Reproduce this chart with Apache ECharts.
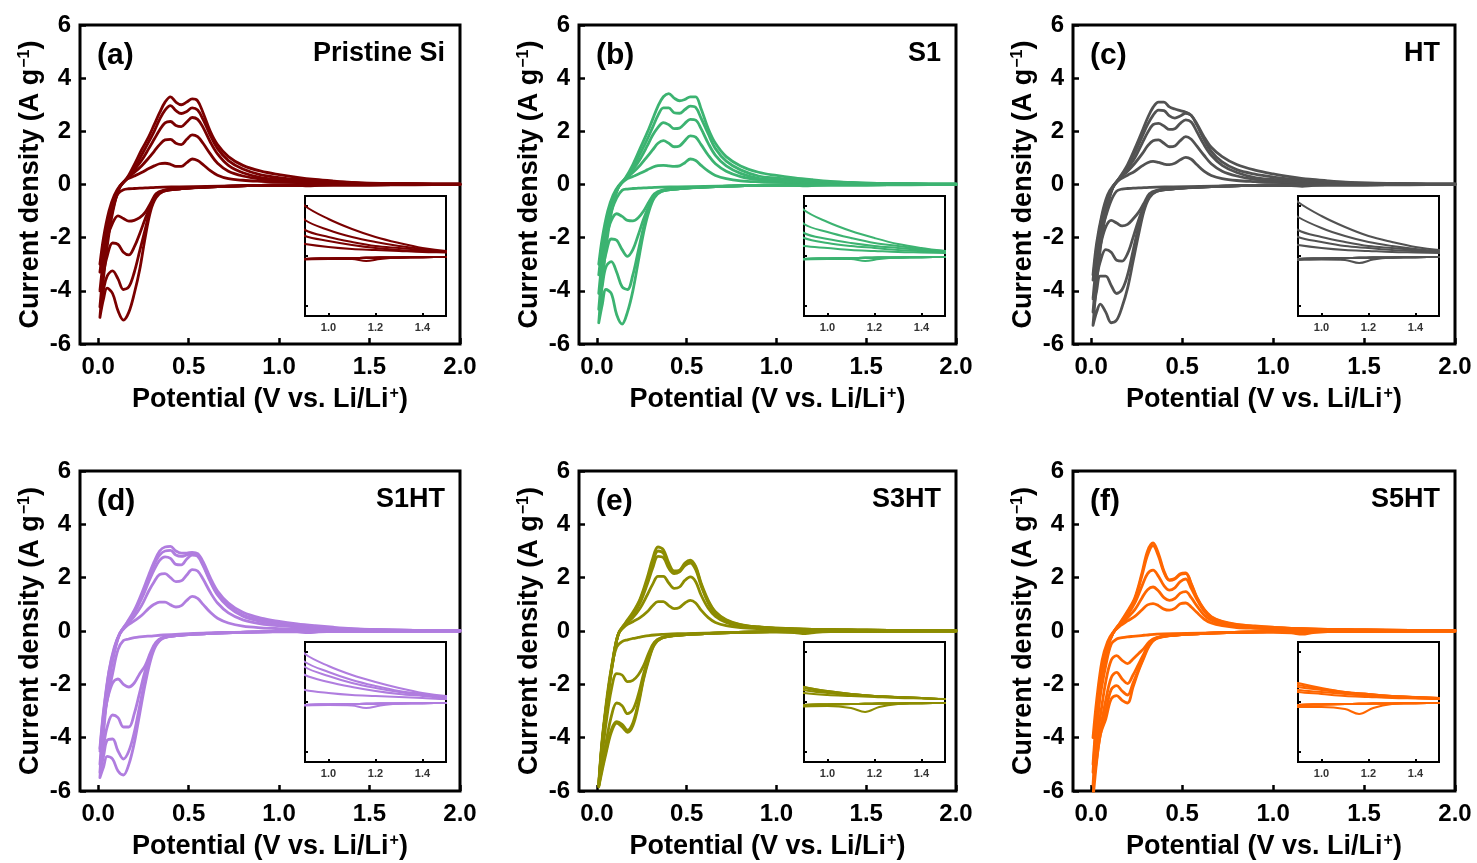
<!DOCTYPE html>
<html>
<head>
<meta charset="utf-8">
<title>Cyclic voltammograms of Si anodes</title>
<script src="https://cdn.jsdelivr.net/npm/echarts@6/dist/echarts.min.js"></script>
<style>
  html, body { margin: 0; padding: 0; background: #fff; }
  #chart { width: 1477px; height: 863px; }
</style>
</head>
<body>
<div id="chart"></div>
<script>
// ---------------------------------------------------------------------------
// Potential grids (V vs. Li/Li+) shared by every sweep
// ---------------------------------------------------------------------------
const POTENTIAL_CATHODIC = [2.0, 1.75, 1.5, 1.4, 1.3, 1.22, 1.16, 1.1, 1.0, 0.9, 0.75, 0.6, 0.45,
  0.36, 0.32, 0.29, 0.26, 0.23, 0.2, 0.17, 0.14, 0.11, 0.08, 0.05, 0.03, 0.01];
const POTENTIAL_ANODIC = [0.01, 0.03, 0.06, 0.09, 0.12, 0.16, 0.2, 0.24, 0.28, 0.31, 0.34, 0.37, 0.40,
  0.43, 0.46, 0.49, 0.52, 0.55, 0.58, 0.62, 0.66, 0.72, 0.8, 0.9, 1.0, 1.1, 1.2, 1.3, 1.4, 1.5, 1.75, 2.0];

// Axis ticks
const X_TICKS = [0, 0.5, 1.0, 1.5, 2.0];
const Y_TICKS = [-6, -4, -2, 0, 2, 4, 6];
const INSET_X_TICKS = [1.0, 1.2, 1.4];
const INSET_Y_TICKS = [-0.5, 0, 0.5];

// Panel labels and sample names
const PANEL_LABELS = ['(a)', '(b)', '(c)', '(d)', '(e)', '(f)'];
const SAMPLE_NAMES = ['Pristine Si', 'S1', 'HT', 'S1HT', 'S3HT', 'S5HT'];

// ---------------------------------------------------------------------------
// Current density (A g-1), cycles 1..5; cathodic sweeps follow POTENTIAL_CATHODIC,
// anodic sweeps follow POTENTIAL_ANODIC
// ---------------------------------------------------------------------------
const PRISTINE_SI_CATHODIC = [
  [0.0, -0.01, -0.01, -0.01, -0.015, -0.03, -0.05, -0.03, -0.03, -0.035, -0.05, -0.07, -0.09, -0.1, -0.11, -0.12, -0.13, -0.14, -0.15, -0.16, -0.2, -0.35, -0.85, -1.6, -2.2, -3.0],
  [0.0, -0.005, -0.01, -0.012, -0.014, -0.016, -0.018, -0.02, -0.025, -0.03, -0.06, -0.1, -0.16, -0.22, -0.35, -0.7, -1.05, -1.25, -1.35, -1.38, -1.28, -1.18, -1.45, -2.0, -2.6, -3.3],
  [0.0, -0.005, -0.01, -0.012, -0.014, -0.016, -0.018, -0.02, -0.025, -0.03, -0.06, -0.1, -0.16, -0.24, -0.4, -0.8, -1.3, -1.85, -2.35, -2.65, -2.55, -2.25, -2.2, -2.7, -3.3, -4.0],
  [0.0, -0.005, -0.01, -0.012, -0.014, -0.016, -0.018, -0.02, -0.025, -0.03, -0.06, -0.1, -0.16, -0.25, -0.45, -0.9, -1.7, -2.5, -3.3, -3.85, -3.95, -3.55, -3.25, -3.45, -3.95, -4.6],
  [0.0, -0.005, -0.01, -0.012, -0.014, -0.016, -0.018, -0.02, -0.025, -0.03, -0.06, -0.1, -0.16, -0.26, -0.5, -1.0, -2.0, -3.2, -4.1, -4.8, -5.1, -4.75, -4.1, -3.9, -4.3, -5.0]
];
const PRISTINE_SI_ANODIC = [
  [-3.0, -2.0, -1.0, -0.4, -0.05, 0.2, 0.32, 0.45, 0.6, 0.7, 0.78, 0.8, 0.76, 0.68, 0.68, 0.82, 0.96, 0.9, 0.75, 0.52, 0.35, 0.22, 0.16, 0.12, 0.09, 0.07, 0.06, 0.05, 0.04, 0.035, 0.02, 0.01],
  [-3.3, -2.3, -1.2, -0.5, -0.08, 0.22, 0.45, 0.7, 1.0, 1.25, 1.5, 1.68, 1.7, 1.55, 1.5, 1.7, 1.87, 1.8, 1.55, 1.15, 0.8, 0.5, 0.32, 0.2, 0.15, 0.11, 0.08, 0.06, 0.05, 0.04, 0.02, 0.01],
  [-4.0, -2.8, -1.4, -0.6, -0.1, 0.22, 0.55, 0.9, 1.35, 1.7, 2.05, 2.32, 2.37, 2.22, 2.18, 2.35, 2.52, 2.45, 2.15, 1.6, 1.15, 0.72, 0.44, 0.26, 0.19, 0.14, 0.1, 0.08, 0.06, 0.04, 0.02, 0.01],
  [-4.6, -3.2, -1.6, -0.7, -0.1, 0.23, 0.6, 1.1, 1.6, 2.0, 2.45, 2.8, 2.97, 2.78, 2.67, 2.75, 2.88, 2.8, 2.45, 1.85, 1.35, 0.9, 0.58, 0.36, 0.26, 0.19, 0.14, 0.1, 0.07, 0.045, 0.02, 0.01],
  [-5.0, -3.5, -1.85, -0.75, -0.1, 0.25, 0.75, 1.3, 1.8, 2.25, 2.7, 3.1, 3.3, 3.1, 3.0, 3.1, 3.22, 3.15, 2.7, 2.0, 1.5, 1.05, 0.72, 0.5, 0.37, 0.27, 0.19, 0.13, 0.08, 0.05, 0.02, 0.01]
];

const S1_CATHODIC = [
  [0.0, -0.01, -0.01, -0.01, -0.015, -0.03, -0.05, -0.03, -0.03, -0.035, -0.05, -0.07, -0.09, -0.1, -0.11, -0.12, -0.13, -0.14, -0.15, -0.17, -0.22, -0.5, -1.0, -1.7, -2.3, -3.0],
  [0.0, -0.005, -0.01, -0.012, -0.014, -0.016, -0.018, -0.02, -0.025, -0.03, -0.06, -0.1, -0.16, -0.22, -0.35, -0.65, -1.0, -1.25, -1.37, -1.35, -1.2, -1.1, -1.35, -2.0, -2.6, -3.4],
  [0.0, -0.005, -0.01, -0.012, -0.014, -0.016, -0.018, -0.02, -0.025, -0.03, -0.06, -0.1, -0.16, -0.24, -0.4, -0.8, -1.3, -1.9, -2.45, -2.7, -2.45, -2.1, -2.05, -2.6, -3.3, -4.1],
  [0.0, -0.005, -0.01, -0.012, -0.014, -0.016, -0.018, -0.02, -0.025, -0.03, -0.06, -0.1, -0.16, -0.25, -0.45, -0.9, -1.6, -2.5, -3.4, -3.95, -3.85, -3.3, -2.9, -3.1, -3.8, -4.7],
  [0.0, -0.005, -0.01, -0.012, -0.014, -0.016, -0.018, -0.02, -0.025, -0.03, -0.06, -0.1, -0.16, -0.26, -0.5, -1.0, -1.8, -2.9, -4.0, -4.8, -5.25, -4.9, -4.1, -3.95, -4.5, -5.2]
];
const S1_ANODIC = [
  [-3.0, -2.0, -1.0, -0.4, -0.05, 0.18, 0.3, 0.42, 0.55, 0.65, 0.71, 0.72, 0.7, 0.68, 0.7, 0.82, 0.96, 0.9, 0.72, 0.5, 0.34, 0.22, 0.14, 0.1, 0.08, 0.06, 0.05, 0.04, 0.035, 0.03, 0.02, 0.01],
  [-3.4, -2.3, -1.2, -0.5, -0.08, 0.22, 0.45, 0.72, 1.05, 1.3, 1.55, 1.65, 1.55, 1.42, 1.45, 1.65, 1.83, 1.78, 1.5, 1.1, 0.78, 0.5, 0.3, 0.18, 0.13, 0.1, 0.08, 0.06, 0.05, 0.04, 0.02, 0.01],
  [-4.1, -2.8, -1.4, -0.6, -0.1, 0.23, 0.55, 0.95, 1.45, 1.85, 2.15, 2.33, 2.25, 2.1, 2.12, 2.3, 2.45, 2.42, 2.1, 1.55, 1.1, 0.7, 0.42, 0.23, 0.17, 0.13, 0.1, 0.08, 0.06, 0.04, 0.02, 0.01],
  [-4.7, -3.2, -1.6, -0.7, -0.1, 0.24, 0.62, 1.15, 1.7, 2.15, 2.6, 2.88, 2.88, 2.7, 2.68, 2.82, 2.95, 2.9, 2.5, 1.9, 1.35, 0.88, 0.55, 0.32, 0.24, 0.18, 0.13, 0.1, 0.07, 0.05, 0.02, 0.01],
  [-5.2, -3.6, -1.9, -0.75, -0.1, 0.26, 0.75, 1.35, 1.95, 2.45, 2.95, 3.3, 3.42, 3.25, 3.15, 3.2, 3.3, 3.3, 2.85, 2.1, 1.55, 1.05, 0.7, 0.46, 0.34, 0.25, 0.18, 0.12, 0.08, 0.05, 0.02, 0.01]
];

const HT_CATHODIC = [
  [0.0, -0.01, -0.01, -0.01, -0.015, -0.035, -0.07, -0.04, -0.035, -0.04, -0.05, -0.07, -0.09, -0.1, -0.11, -0.12, -0.13, -0.14, -0.15, -0.17, -0.25, -0.6, -1.2, -1.9, -2.6, -3.4],
  [0.0, -0.005, -0.01, -0.012, -0.014, -0.016, -0.018, -0.02, -0.025, -0.03, -0.06, -0.1, -0.16, -0.22, -0.35, -0.7, -1.05, -1.3, -1.5, -1.56, -1.45, -1.35, -1.6, -2.3, -2.9, -3.6],
  [0.0, -0.005, -0.01, -0.012, -0.014, -0.016, -0.018, -0.02, -0.025, -0.03, -0.06, -0.1, -0.16, -0.24, -0.4, -0.8, -1.35, -2.0, -2.6, -2.88, -2.85, -2.55, -2.45, -2.9, -3.5, -4.3],
  [0.0, -0.005, -0.01, -0.012, -0.014, -0.016, -0.018, -0.02, -0.025, -0.03, -0.06, -0.1, -0.16, -0.25, -0.45, -0.9, -1.6, -2.5, -3.4, -3.95, -4.1, -3.8, -3.45, -3.45, -4.0, -4.8],
  [0.0, -0.005, -0.01, -0.012, -0.014, -0.016, -0.018, -0.02, -0.025, -0.03, -0.06, -0.1, -0.16, -0.26, -0.5, -1.0, -1.9, -2.9, -3.9, -4.6, -5.1, -5.2, -4.8, -4.5, -4.8, -5.3]
];
const HT_ANODIC = [
  [-3.4, -2.2, -1.1, -0.4, -0.05, 0.2, 0.35, 0.5, 0.7, 0.82, 0.87, 0.83, 0.77, 0.75, 0.8, 0.93, 1.02, 0.95, 0.75, 0.5, 0.34, 0.22, 0.15, 0.11, 0.08, 0.06, 0.05, 0.04, 0.035, 0.03, 0.02, 0.01],
  [-3.6, -2.4, -1.2, -0.5, -0.08, 0.25, 0.5, 0.8, 1.15, 1.45, 1.65, 1.68, 1.55, 1.42, 1.45, 1.65, 1.8, 1.7, 1.45, 1.1, 0.78, 0.5, 0.32, 0.19, 0.14, 0.1, 0.08, 0.06, 0.05, 0.04, 0.02, 0.01],
  [-4.3, -2.9, -1.45, -0.6, -0.1, 0.27, 0.6, 1.0, 1.55, 1.95, 2.25, 2.3, 2.2, 2.07, 2.1, 2.3, 2.43, 2.35, 2.0, 1.5, 1.1, 0.72, 0.45, 0.26, 0.19, 0.14, 0.1, 0.08, 0.06, 0.04, 0.02, 0.01],
  [-4.8, -3.3, -1.65, -0.7, -0.1, 0.28, 0.68, 1.2, 1.8, 2.25, 2.6, 2.8, 2.78, 2.58, 2.5, 2.58, 2.68, 2.6, 2.25, 1.7, 1.25, 0.85, 0.56, 0.39, 0.28, 0.2, 0.14, 0.1, 0.07, 0.05, 0.02, 0.01],
  [-5.3, -3.7, -1.9, -0.8, -0.1, 0.3, 0.75, 1.35, 2.0, 2.5, 2.9, 3.1, 3.1, 2.92, 2.84, 2.78, 2.72, 2.6, 2.3, 1.8, 1.4, 1.05, 0.75, 0.54, 0.4, 0.29, 0.2, 0.14, 0.09, 0.06, 0.02, 0.01]
];

const S1HT_CATHODIC = [
  [0.0, -0.01, -0.01, -0.01, -0.015, -0.035, -0.06, -0.035, -0.03, -0.035, -0.05, -0.07, -0.12, -0.15, -0.17, -0.19, -0.2, -0.22, -0.25, -0.3, -0.36, -0.7, -1.6, -2.6, -3.4, -4.4],
  [0.0, -0.005, -0.01, -0.012, -0.014, -0.016, -0.018, -0.02, -0.025, -0.03, -0.06, -0.1, -0.16, -0.24, -0.42, -0.8, -1.3, -1.6, -1.95, -2.1, -2.0, -1.8, -1.95, -2.6, -3.3, -4.5],
  [0.0, -0.005, -0.01, -0.012, -0.014, -0.016, -0.018, -0.02, -0.025, -0.03, -0.06, -0.1, -0.16, -0.25, -0.45, -0.9, -1.5, -2.3, -3.1, -3.6, -3.6, -3.25, -3.15, -3.6, -4.3, -5.0],
  [0.0, -0.005, -0.01, -0.012, -0.014, -0.016, -0.018, -0.02, -0.025, -0.03, -0.06, -0.1, -0.16, -0.26, -0.5, -1.0, -1.8, -2.8, -3.8, -4.5, -4.8, -4.5, -4.05, -4.1, -4.7, -5.3],
  [0.0, -0.005, -0.01, -0.012, -0.014, -0.016, -0.018, -0.02, -0.025, -0.03, -0.06, -0.1, -0.16, -0.27, -0.55, -1.1, -2.0, -3.1, -4.2, -5.0, -5.4, -5.25, -4.8, -4.7, -5.1, -5.5]
];
const S1HT_ANODIC = [
  [-4.4, -3.0, -1.5, -0.6, -0.1, 0.2, 0.38, 0.58, 0.85, 1.0, 1.08, 1.08, 0.98, 0.9, 0.95, 1.15, 1.3, 1.22, 1.0, 0.7, 0.48, 0.3, 0.18, 0.12, 0.09, 0.07, 0.06, 0.05, 0.04, 0.03, 0.02, 0.01],
  [-4.5, -3.1, -1.55, -0.65, -0.1, 0.25, 0.55, 0.95, 1.5, 1.85, 2.12, 2.15, 2.0, 1.85, 1.88, 2.1, 2.3, 2.25, 1.95, 1.45, 1.05, 0.68, 0.42, 0.27, 0.2, 0.15, 0.11, 0.08, 0.06, 0.04, 0.02, 0.01],
  [-5.0, -3.4, -1.7, -0.7, -0.1, 0.28, 0.68, 1.2, 1.85, 2.3, 2.65, 2.78, 2.72, 2.5, 2.48, 2.7, 2.85, 2.8, 2.45, 1.85, 1.35, 0.9, 0.55, 0.35, 0.26, 0.19, 0.14, 0.1, 0.07, 0.05, 0.02, 0.01],
  [-5.3, -3.6, -1.8, -0.75, -0.1, 0.3, 0.72, 1.3, 2.0, 2.5, 2.85, 3.0, 3.02, 2.85, 2.8, 2.85, 2.9, 2.85, 2.5, 1.9, 1.4, 0.95, 0.6, 0.4, 0.3, 0.22, 0.16, 0.11, 0.08, 0.05, 0.02, 0.01],
  [-5.5, -3.8, -1.9, -0.8, -0.1, 0.32, 0.78, 1.4, 2.1, 2.6, 3.0, 3.15, 3.17, 3.0, 2.92, 2.92, 2.95, 2.9, 2.6, 2.0, 1.5, 1.05, 0.7, 0.48, 0.36, 0.27, 0.2, 0.14, 0.09, 0.06, 0.02, 0.01]
];

const S3HT_CATHODIC = [
  [0.0, -0.01, -0.01, -0.01, -0.02, -0.05, -0.1, -0.06, -0.04, -0.045, -0.06, -0.08, -0.1, -0.13, -0.15, -0.17, -0.2, -0.24, -0.28, -0.33, -0.4, -0.6, -1.4, -2.8, -4.2, -5.7],
  [0.0, -0.005, -0.01, -0.012, -0.014, -0.016, -0.018, -0.02, -0.025, -0.03, -0.06, -0.1, -0.16, -0.25, -0.42, -0.8, -1.3, -1.65, -1.85, -1.9, -1.65, -1.6, -2.2, -3.5, -4.6, -5.8],
  [0.0, -0.005, -0.01, -0.012, -0.014, -0.016, -0.018, -0.02, -0.025, -0.03, -0.06, -0.1, -0.16, -0.26, -0.45, -0.95, -1.6, -2.4, -2.95, -3.1, -2.8, -2.7, -3.2, -4.2, -5.0, -5.8],
  [0.0, -0.005, -0.01, -0.012, -0.014, -0.016, -0.018, -0.02, -0.025, -0.03, -0.06, -0.1, -0.16, -0.27, -0.5, -1.0, -1.75, -2.7, -3.45, -3.72, -3.5, -3.4, -3.7, -4.5, -5.1, -5.8],
  [0.0, -0.005, -0.01, -0.012, -0.014, -0.016, -0.018, -0.02, -0.025, -0.03, -0.06, -0.1, -0.16, -0.27, -0.52, -1.05, -1.8, -2.8, -3.55, -3.8, -3.6, -3.45, -3.8, -4.6, -5.2, -5.85]
];
const S3HT_ANODIC = [
  [-5.7, -4.0, -2.3, -1.0, -0.1, 0.2, 0.35, 0.5, 0.72, 0.95, 1.1, 1.1, 0.95, 0.84, 0.88, 1.05, 1.15, 1.05, 0.78, 0.5, 0.32, 0.2, 0.13, 0.09, 0.07, 0.06, 0.05, 0.04, 0.035, 0.03, 0.02, 0.01],
  [-5.8, -4.1, -2.4, -1.05, -0.1, 0.25, 0.5, 0.85, 1.35, 1.75, 2.05, 2.05, 1.8, 1.6, 1.65, 1.9, 2.03, 1.85, 1.35, 0.85, 0.55, 0.32, 0.19, 0.12, 0.09, 0.07, 0.06, 0.05, 0.04, 0.03, 0.02, 0.01],
  [-5.8, -4.1, -2.4, -1.05, -0.1, 0.28, 0.6, 1.05, 1.75, 2.35, 2.8, 2.75, 2.35, 2.15, 2.22, 2.45, 2.55, 2.3, 1.7, 1.05, 0.65, 0.38, 0.22, 0.14, 0.1, 0.08, 0.06, 0.05, 0.04, 0.03, 0.02, 0.01],
  [-5.8, -4.15, -2.45, -1.1, -0.1, 0.3, 0.65, 1.15, 1.9, 2.55, 3.0, 2.92, 2.45, 2.2, 2.25, 2.5, 2.62, 2.38, 1.75, 1.1, 0.7, 0.4, 0.23, 0.15, 0.11, 0.08, 0.06, 0.05, 0.04, 0.03, 0.02, 0.01],
  [-5.85, -4.2, -2.5, -1.1, -0.1, 0.32, 0.7, 1.2, 2.0, 2.7, 3.15, 3.05, 2.55, 2.25, 2.28, 2.55, 2.66, 2.42, 1.8, 1.15, 0.72, 0.42, 0.24, 0.15, 0.11, 0.08, 0.06, 0.05, 0.04, 0.03, 0.02, 0.01]
];

const S5HT_CATHODIC = [
  [0.0, -0.01, -0.01, -0.01, -0.02, -0.06, -0.12, -0.07, -0.05, -0.05, -0.06, -0.08, -0.1, -0.12, -0.14, -0.16, -0.18, -0.2, -0.22, -0.25, -0.3, -0.5, -1.3, -2.4, -3.2, -4.0],
  [0.0, -0.005, -0.01, -0.012, -0.014, -0.016, -0.018, -0.02, -0.025, -0.03, -0.06, -0.1, -0.16, -0.25, -0.4, -0.65, -0.85, -1.05, -1.22, -1.1, -0.92, -1.1, -1.9, -3.2, -4.1, -5.0],
  [0.0, -0.005, -0.01, -0.012, -0.014, -0.016, -0.018, -0.02, -0.025, -0.03, -0.06, -0.1, -0.16, -0.26, -0.45, -0.85, -1.25, -1.65, -1.97, -1.8, -1.55, -1.75, -2.6, -3.7, -4.5, -5.3],
  [0.0, -0.005, -0.01, -0.012, -0.014, -0.016, -0.018, -0.02, -0.025, -0.03, -0.06, -0.1, -0.16, -0.27, -0.5, -0.95, -1.45, -1.95, -2.4, -2.25, -2.05, -2.2, -3.0, -3.9, -4.8, -5.8],
  [0.0, -0.005, -0.01, -0.012, -0.014, -0.016, -0.018, -0.02, -0.025, -0.03, -0.06, -0.1, -0.16, -0.28, -0.55, -1.0, -1.5, -2.1, -2.7, -2.6, -2.42, -2.55, -3.3, -3.9, -4.9, -6.3]
];
const S5HT_ANODIC = [
  [-4.0, -2.6, -1.1, -0.4, -0.05, 0.2, 0.38, 0.55, 0.8, 0.98, 1.03, 0.95, 0.82, 0.78, 0.85, 1.02, 1.05, 0.9, 0.7, 0.45, 0.3, 0.2, 0.13, 0.1, 0.08, 0.06, 0.05, 0.04, 0.035, 0.03, 0.02, 0.01],
  [-5.0, -3.2, -1.4, -0.5, -0.08, 0.24, 0.5, 0.8, 1.25, 1.55, 1.65, 1.5, 1.25, 1.15, 1.22, 1.42, 1.48, 1.25, 0.95, 0.6, 0.4, 0.25, 0.16, 0.12, 0.1, 0.08, 0.06, 0.05, 0.04, 0.03, 0.02, 0.01],
  [-5.3, -3.4, -1.5, -0.55, -0.08, 0.27, 0.6, 1.05, 1.7, 2.15, 2.28, 2.05, 1.7, 1.53, 1.62, 1.85, 1.95, 1.6, 1.2, 0.75, 0.48, 0.3, 0.2, 0.15, 0.12, 0.09, 0.07, 0.06, 0.05, 0.04, 0.02, 0.01],
  [-5.8, -3.7, -1.6, -0.6, -0.08, 0.3, 0.7, 1.2, 2.1, 2.85, 3.2, 2.8, 2.2, 1.9, 1.95, 2.12, 2.15, 1.75, 1.25, 0.8, 0.52, 0.34, 0.23, 0.17, 0.13, 0.1, 0.08, 0.06, 0.05, 0.04, 0.02, 0.01],
  [-6.3, -3.9, -1.7, -0.65, -0.08, 0.32, 0.75, 1.25, 2.2, 3.0, 3.3, 2.9, 2.25, 1.92, 1.97, 2.15, 2.18, 1.78, 1.28, 0.82, 0.54, 0.36, 0.25, 0.19, 0.14, 0.1, 0.08, 0.06, 0.05, 0.04, 0.02, 0.01]
];

// ---------------------------------------------------------------------------
// Panels
// ---------------------------------------------------------------------------
const PANELS = [
  { cathodic: PRISTINE_SI_CATHODIC, anodic: PRISTINE_SI_ANODIC, color: '#7a0000' },
  { cathodic: S1_CATHODIC,          anodic: S1_ANODIC,          color: '#3cb371' },
  { cathodic: HT_CATHODIC,          anodic: HT_ANODIC,          color: '#525252' },
  { cathodic: S1HT_CATHODIC,        anodic: S1HT_ANODIC,        color: '#b07ddf' },
  { cathodic: S3HT_CATHODIC,        anodic: S3HT_ANODIC,        color: '#8c8c00' },
  { cathodic: S5HT_CATHODIC,        anodic: S5HT_ANODIC,        color: '#ff6600' }
];

// Layout of the 2 x 3 grid of plots
const COL_LEFT = [80, 579, 1073];
const COL_RIGHT = [460, 956, 1455];
const ROW_TOP = [25, 471];
const ROW_BOTTOM = [344, 791];
const INSET_LEFT = [305, 804, 1298];
const INSET_TOP = [196, 642];
const INSET_W = 141;
const INSET_H = 120;

const FONT = '"Liberation Sans", Arial, Helvetica, sans-serif';

function cycleLoop(cath, anod) {
  const pts = [];
  cath.forEach((v, i) => pts.push([POTENTIAL_CATHODIC[i], v]));
  anod.forEach((v, i) => pts.push([POTENTIAL_ANODIC[i], v]));
  return pts;
}

const SUP_STYLE = { fontSize: 16, fontWeight: 'bold', fontFamily: FONT, color: '#000', verticalAlign: 'top', lineHeight: 12, padding: [0, 0, 0, 1] };

const grids = [], xAxes = [], yAxes = [], series = [], graphics = [];

PANELS.forEach((p, idx) => {
  const col = idx % 3, row = Math.floor(idx / 3);
  const left = COL_LEFT[col], right = COL_RIGHT[col];
  const top = ROW_TOP[row], bottom = ROW_BOTTOM[row];

  // main plot
  const gMain = grids.length;
  grids.push({
    left: left, top: top, width: right - left, height: bottom - top,
    show: true, borderColor: '#000', borderWidth: 3, backgroundColor: 'transparent', containLabel: false
  });
  xAxes.push({
    type: 'value', gridIndex: gMain, min: -0.1, max: 2.0,
    axisLine: { show: false, onZero: false },
    axisTick: { show: true, inside: true, length: 6, customValues: X_TICKS, lineStyle: { color: '#000', width: 2.5 } },
    axisLabel: {
      customValues: X_TICKS, margin: 11, color: '#000', fontSize: 24, fontWeight: 'bold', fontFamily: FONT,
      formatter: v => v.toFixed(1)
    },
    splitLine: { show: false },
    name: 'Potential (V vs. Li/Li{sup|+})',
    nameLocation: 'middle', nameGap: 42,
    nameTextStyle: { color: '#000', fontSize: 27, fontWeight: 'bold', fontFamily: FONT, rich: { sup: SUP_STYLE } }
  });
  yAxes.push({
    type: 'value', gridIndex: gMain, min: -6, max: 6, interval: 2,
    axisLine: { show: false, onZero: false },
    axisTick: { show: true, inside: true, length: 6, lineStyle: { color: '#000', width: 2.5 } },
    axisLabel: { margin: 9, color: '#000', fontSize: 24, fontWeight: 'bold', fontFamily: FONT },
    splitLine: { show: false },
    name: 'Current density (A g{sup|\u22121})',
    nameLocation: 'middle', nameGap: 36,
    nameTextStyle: { color: '#000', fontSize: 27, fontWeight: 'bold', fontFamily: FONT, rich: { sup: SUP_STYLE } }
  });

  // inset plot (zoom of the 0.9 - 1.5 V region)
  const gInset = grids.length;
  grids.push({
    left: INSET_LEFT[col], top: INSET_TOP[row], width: INSET_W, height: INSET_H,
    show: true, borderColor: '#000', borderWidth: 2, backgroundColor: '#fff', z: 20
  });
  xAxes.push({
    type: 'value', gridIndex: gInset, min: 0.9, max: 1.5, z: 21,
    axisLine: { show: false, onZero: false },
    axisTick: { show: true, inside: true, length: 3, customValues: INSET_X_TICKS, lineStyle: { color: '#000', width: 2 } },
    axisLabel: {
      customValues: INSET_X_TICKS, margin: 6, color: '#333', fontSize: 11, fontWeight: 'bold', fontFamily: FONT,
      formatter: v => v.toFixed(1)
    },
    splitLine: { show: false }
  });
  yAxes.push({
    type: 'value', gridIndex: gInset, min: -0.6, max: 0.6, z: 21,
    axisLine: { show: false, onZero: false },
    axisTick: { show: true, inside: true, length: 3, customValues: INSET_Y_TICKS, lineStyle: { color: '#000', width: 2 } },
    axisLabel: { show: false },
    splitLine: { show: false }
  });

  p.cathodic.forEach((cath, k) => {
    const data = cycleLoop(cath, p.anodic[k]);
    series.push({
      type: 'line', xAxisIndex: gMain, yAxisIndex: gMain, data: data,
      smooth: 0.35, showSymbol: false, symbol: 'none', clip: true, silent: true, z: 2,
      lineStyle: { color: p.color, width: 2.8, cap: 'round', join: 'round' }
    });
    series.push({
      type: 'line', xAxisIndex: gInset, yAxisIndex: gInset, data: data,
      smooth: 0.35, showSymbol: false, symbol: 'none', clip: true, silent: true, z: 22,
      lineStyle: { color: p.color, width: 2, cap: 'round', join: 'round' }
    });
  });

  // panel letter and sample name
  const midY = row === 0 ? 56 : 502;
  graphics.push({
    type: 'text', x: left + 17, y: midY, z: 30, silent: true,
    style: { text: PANEL_LABELS[idx], fill: '#000', font: 'bold 30px ' + FONT, align: 'left', verticalAlign: 'middle' }
  });
  graphics.push({
    type: 'text', x: right - 15, y: midY - 2, z: 30, silent: true,
    style: { text: SAMPLE_NAMES[idx], fill: '#000', font: 'bold 27px ' + FONT, align: 'right', verticalAlign: 'middle' }
  });
});

const chart = echarts.init(document.getElementById('chart'), null, { renderer: 'canvas' });
chart.setOption({
  animation: false,
  backgroundColor: '#fff',
  grid: grids,
  xAxis: xAxes,
  yAxis: yAxes,
  series: series,
  graphic: graphics
});
</script>
</body>
</html>
